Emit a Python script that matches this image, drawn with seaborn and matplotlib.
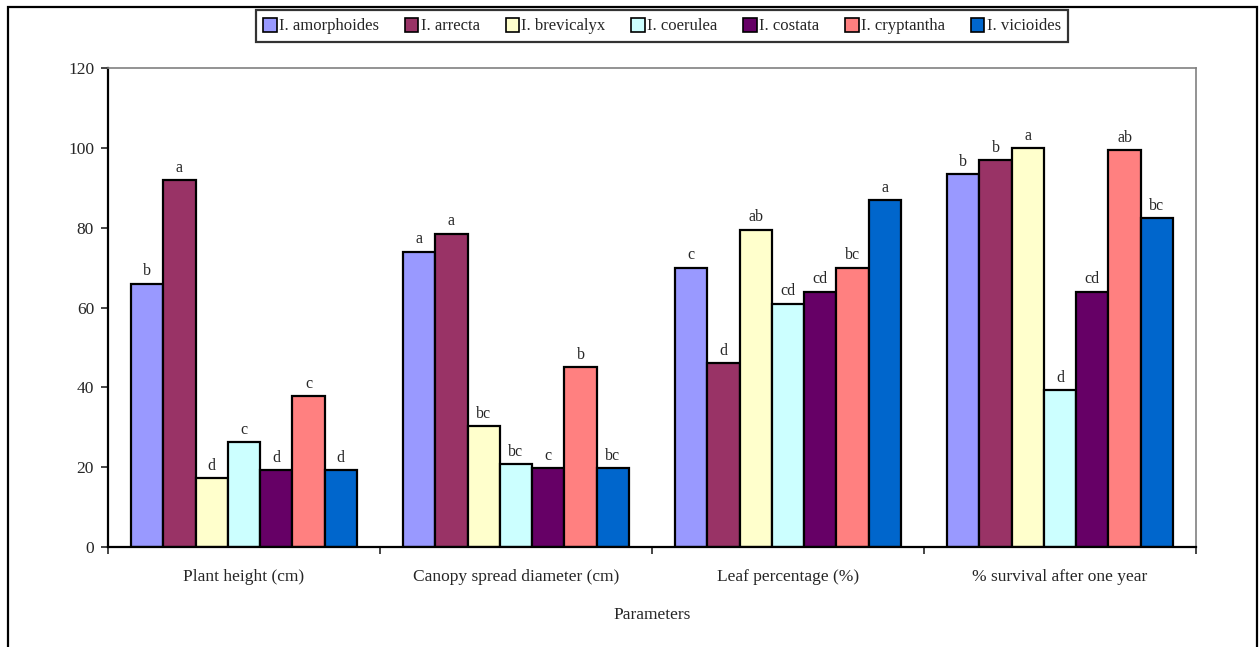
import numpy as np
import pandas as pd
import matplotlib
matplotlib.use("Agg")
import matplotlib.pyplot as plt
import seaborn as sns
from matplotlib.patches import Rectangle
from matplotlib.ticker import FixedLocator

# %%
# values
parameters = ["Plant height (cm)", "Canopy spread diameter (cm)",
              "Leaf percentage (%)", "% survival after one year"]
species = ["I. amorphoides", "I. arrecta", "I. brevicalyx", "I. coerulea",
           "I. costata", "I. cryptantha", "I. vicioides"]

amorphoides = [66, 74, 70, 93.5]
arrecta = [92, 78.5, 46, 97]
brevicalyx = [17.2, 30.3, 79.5, 100]
coerulea = [26.3, 20.8, 61, 39.3]
costata = [19.3, 19.8, 64, 64]
cryptantha = [37.8, 45, 70, 99.5]
vicioides = [19.3, 19.8, 87, 82.5]

# significance letters, same order as above
letters_amorphoides = ["b", "a", "c", "b"]
letters_arrecta = ["a", "a", "d", "b"]
letters_brevicalyx = ["d", "bc", "ab", "a"]
letters_coerulea = ["c", "bc", "cd", "d"]
letters_costata = ["d", "c", "cd", "cd"]
letters_cryptantha = ["c", "b", "bc", "ab"]
letters_vicioides = ["d", "bc", "a", "bc"]

colors = ["#9999FF", "#993366", "#FFFFCC", "#CCFFFF", "#660066", "#FF8080", "#0066CC"]

# %%
series = [amorphoides, arrecta, brevicalyx, coerulea, costata, cryptantha, vicioides]
letters = [letters_amorphoides, letters_arrecta, letters_brevicalyx, letters_coerulea,
           letters_costata, letters_cryptantha, letters_vicioides]

rows = []
for sp, vals in zip(species, series):
    for p, v in zip(parameters, vals):
        rows.append({"Parameters": p, "species": sp, "value": v})
df = pd.DataFrame(rows)

sns.set_style("white")
plt.rcParams["font.family"] = ["Liberation Serif", "DejaVu Serif"]

fig = plt.figure(figsize=(12.6, 6.47), dpi=100)
ax = fig.add_axes([108 / 1260, 1 - 547 / 647, (1196 - 108) / 1260, (547 - 68) / 647])

sns.barplot(data=df, x="Parameters", y="value", hue="species", hue_order=species,
            order=parameters, palette=colors, width=0.83, gap=0,
            edgecolor="black", linewidth=1.6, saturation=1, legend=True, ax=ax)

for cont, labs in zip(ax.containers, letters):
    ax.bar_label(cont, labels=labs, padding=3, fontsize=11.5)

ax.set_ylim(0, 120)
ax.set_xlim(-0.5, 3.5)
ax.set_yticks(np.arange(0, 121, 20))
ax.tick_params(axis="y", direction="out", length=5, width=1.2, labelsize=12.5, pad=5, left=True)
ax.tick_params(axis="x", which="major", length=0, labelsize=12.5, pad=16)
ax.xaxis.set_minor_locator(FixedLocator([-0.5, 0.5, 1.5, 2.5, 3.5]))
ax.tick_params(axis="x", which="minor", direction="out", length=5, width=1.2, bottom=True)

ax.set_xlabel("Parameters", fontsize=12.5, labelpad=16)
ax.set_ylabel("")

for s in ["left", "bottom"]:
    ax.spines[s].set_color("black")
    ax.spines[s].set_linewidth(1.6)
for s in ["top", "right"]:
    ax.spines[s].set_color("#808080")
    ax.spines[s].set_linewidth(1.2)

ax.get_legend().remove()
handles = [Rectangle((0, 0), 1, 1, facecolor=c, edgecolor="black", linewidth=1.2) for c in colors]
leg = fig.legend(handles, species, loc="center", bbox_to_anchor=(662 / 1260, 1 - 26 / 647),
                 ncol=7, frameon=True, fontsize=12, handlelength=0.8, handleheight=0.9,
                 handletextpad=0.15, columnspacing=1.55, borderpad=0.45, fancybox=False)
leg.get_frame().set_edgecolor("black")
leg.get_frame().set_linewidth(1.6)

# outer chart border
fig.patches.append(Rectangle((8 / 1260, -0.05), 1249 / 1260, 1.05 - 7 / 647,
                             transform=fig.transFigure, fill=False,
                             edgecolor="black", linewidth=1.6))

plt.savefig("out.png", dpi=100)
